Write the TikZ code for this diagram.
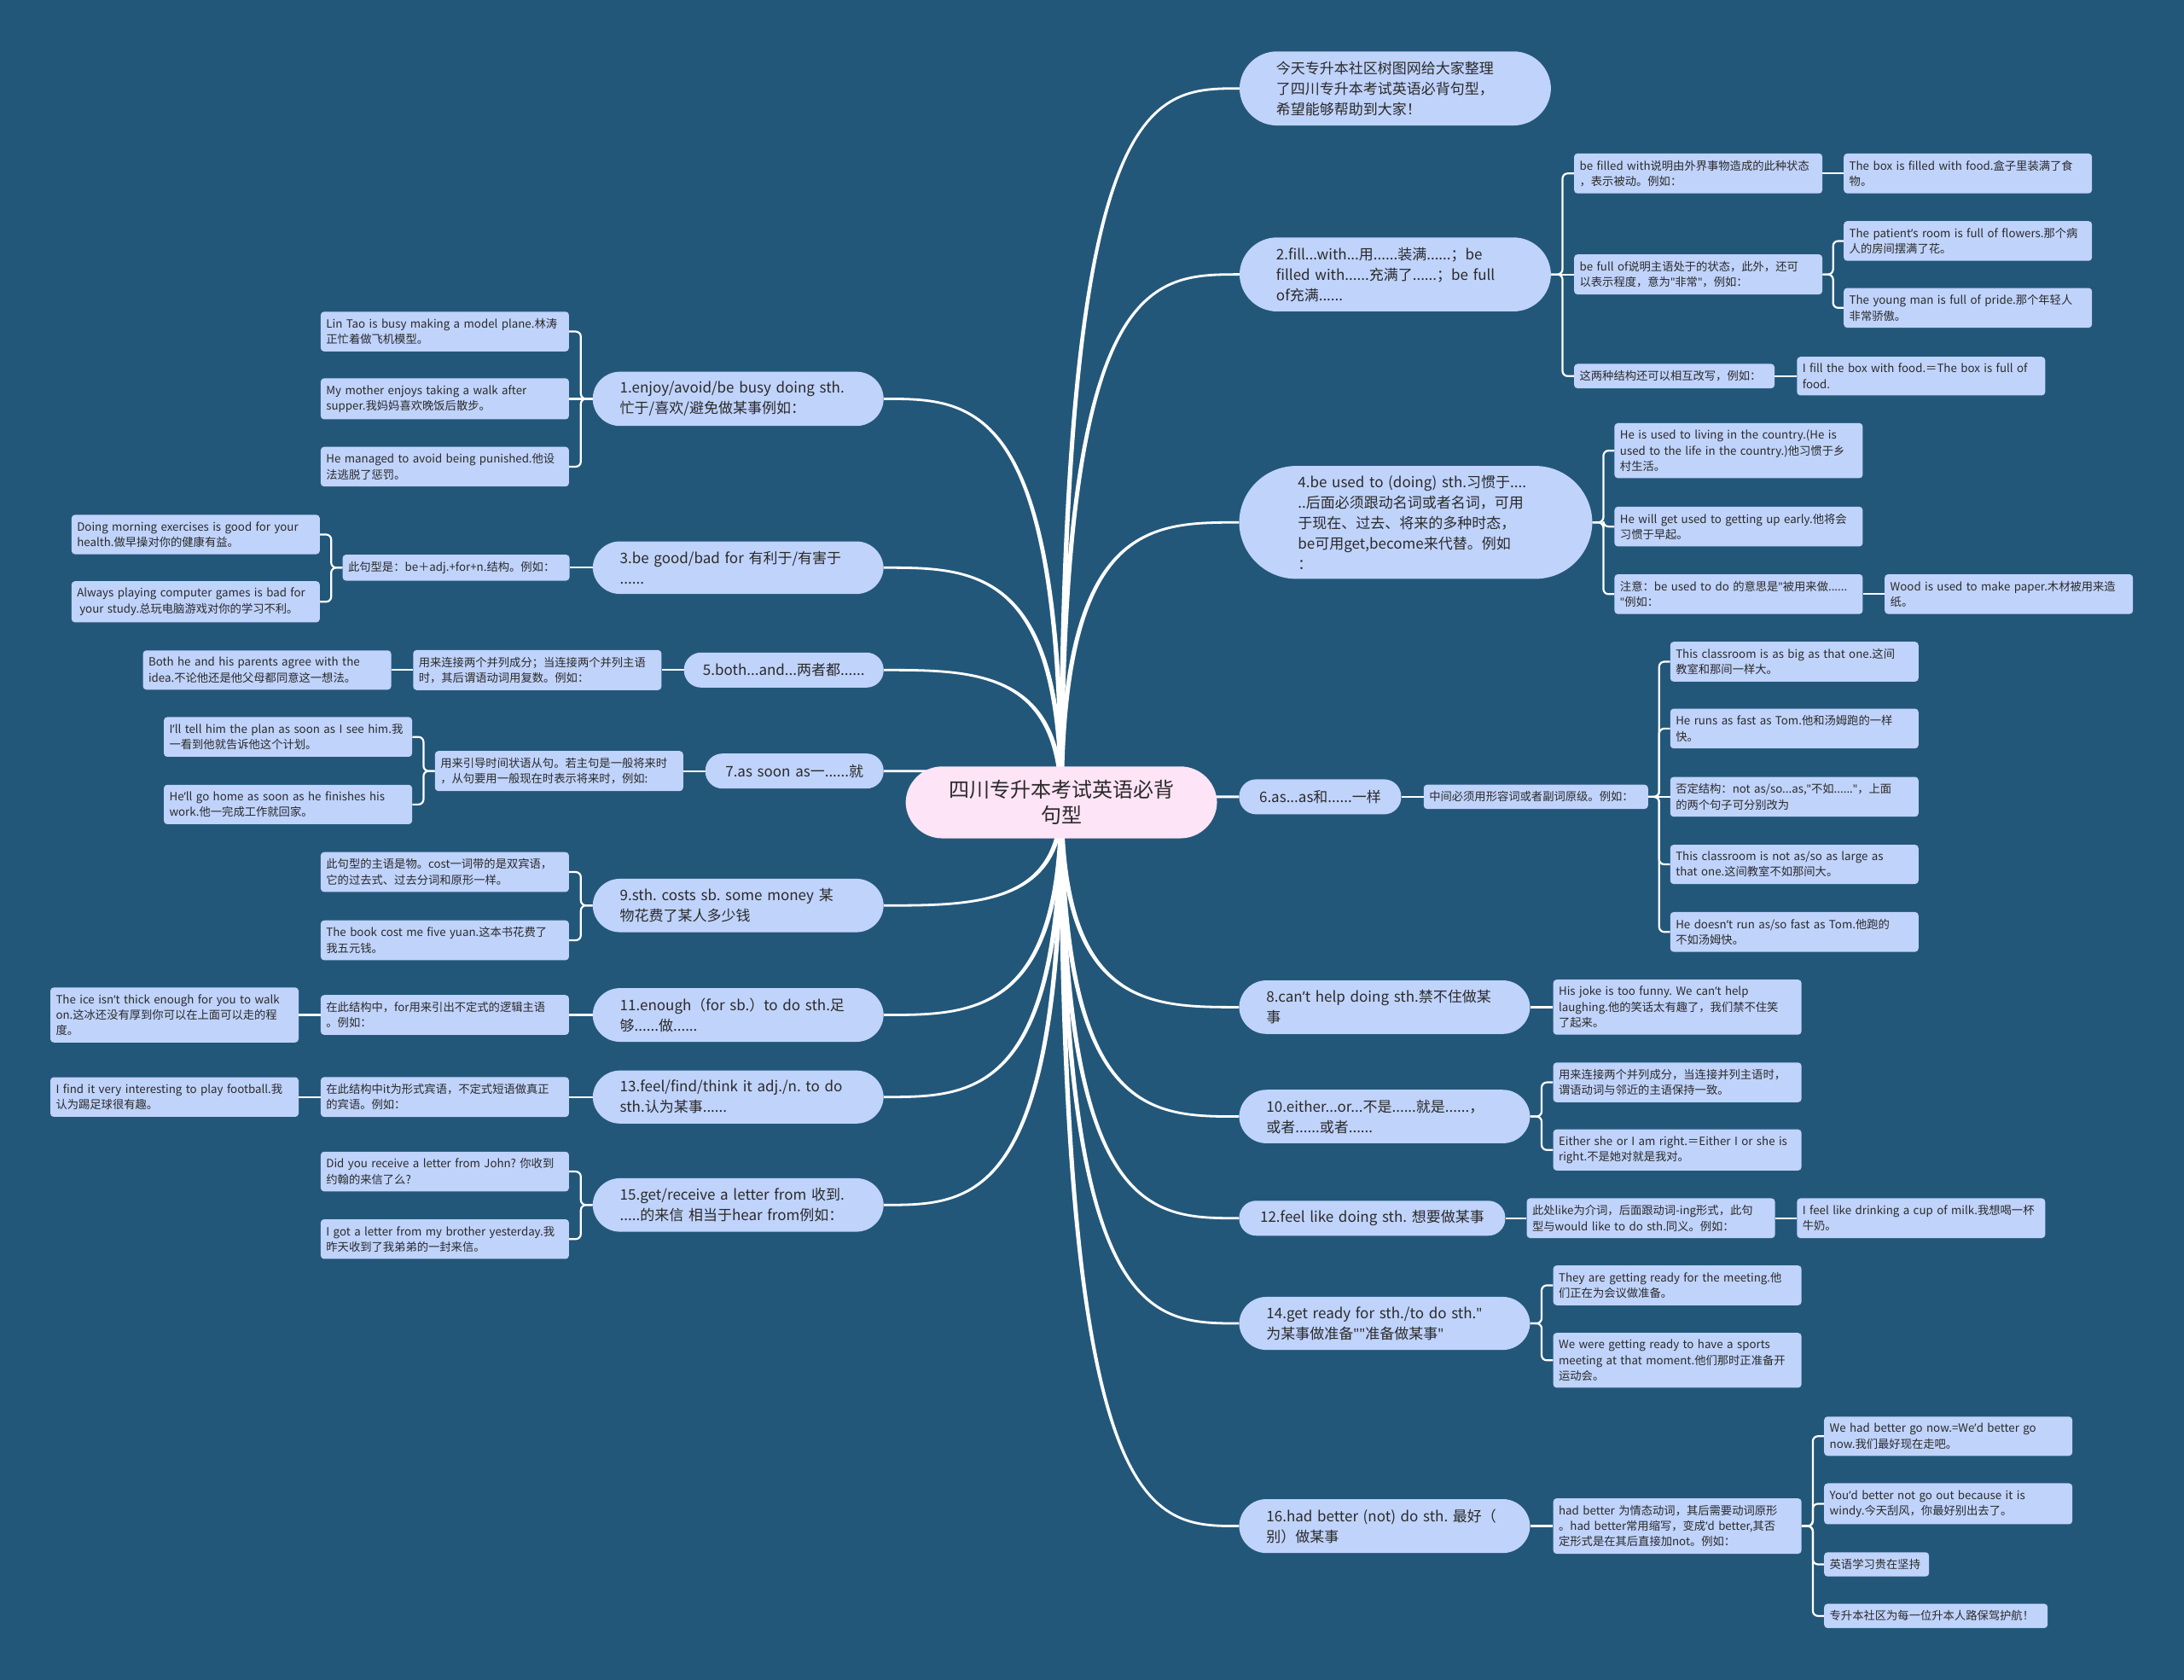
\documentclass[tikz,border=0pt]{standalone}
\usepackage{fontspec}
\setmainfont{Noto Sans CJK SC}
\newfontfamily\latf{Noto Sans}
\newcommand\ap{{\latf ’}}
\newcommand\qq{{\latf "}}
\usetikzlibrary{calc}
\definecolor{bg}{HTML}{23577A}
\definecolor{nf}{HTML}{C0D3FB}
\definecolor{rootf}{HTML}{FDE4F6}
\definecolor{tx}{HTML}{2A2A2A}
\newcommand\fsmall{\fontsize{13.3}{18.3}\selectfont}
\newcommand\fbr{\fontsize{17}{24}\selectfont}
\newcommand\froot{\fontsize{24}{30}\selectfont}
\pgfdeclarelayer{back}\pgfdeclarelayer{lines}\pgfsetlayers{back,lines,main}
\newcommand\mainconn[1]{%
 \fill[white] let \p1=(root.center), \p2=(#1), \n1={sign(\x2-\x1)*sign(\y2-\y1)} in
 ({\x1-2.8pt},\y1) .. controls ({\x1-2.8pt},{\y2+(\n1)*1.4pt}) and ({(\x1+\x2)/2},{\y2+(\n1)*1.4pt}) .. (\x2,{\y2+(\n1)*1.4pt})
 -- (\x2,{\y2-(\n1)*1.4pt}) .. controls ({(\x1+\x2)/2},{\y2-(\n1)*1.4pt}) and ({\x1+2.8pt},{\y2-(\n1)*1.4pt}) .. ({\x1+2.8pt},\y1) -- cycle;}
\newcommand\subL[2]{\draw[subline] (#1.west) -- ($(#1.west)!.5!(#1.west -| #2.east)$) |- (#2.east);}
\newcommand\subR[2]{\draw[subline] (#1.east) -- ($(#1.east)!.5!(#1.east -| #2.west)$) |- (#2.west);}
\newcommand\subLs[2]{\draw[subline] (#1.west) -- (#2.east);}
\newcommand\subRs[2]{\draw[subline] (#1.east) -- (#2.west);}
\begin{document}
\frenchspacing
\begin{tikzpicture}[x=1.6327pt,y=-1.6327pt,
 leaf/.style={fill=nf,text=tx,rounded corners=4pt,inner xsep=6.5pt,inner ysep=8pt,font=\fsmall,align=left,text width=#1},
 leaf/.default=278pt,
 br/.style={fill=nf,text=tx,rounded corners=32pt,inner xsep=32pt,inner ysep=11.5pt,font=\fbr,align=left,text width=277pt},
 brw/.style={br,rounded corners=44pt,inner xsep=43pt,text width=279pt},
 brone/.style={fill=nf,text=tx,rounded corners=20pt,inner xsep=19pt,inner ysep=4pt,minimum height=41pt,font=\fbr,align=center,text width=#1},
 rootn/.style={fill=rootf,text=tx,rounded corners=43pt,inner xsep=32.5pt,inner ysep=16pt,font=\froot,align=center,text width=300pt},
 subline/.style={draw=white,line width=2.2pt,rounded corners=6pt},
]
\path[use as bounding box] (0,0) rectangle (1568,1206);
\begin{pgfonlayer}{back}
\fill[bg] (0,0) rectangle (1568,1206);
\end{pgfonlayer}

\node[rootn] (root) at (762,576) {四川专升本考试英语必背\\句型};

% left branches
\node[br,anchor=east] (L1) at (634.5,286.3) {1.enjoy/avoid/be busy doing sth.\\忙于/喜欢/避免做某事例如：};
\node[br,anchor=east] (L3) at (634.5,407.5) {3.be good/bad for 有利于/有害于\\......};
\node[brone=196pt,anchor=east] (L5) at (634.5,481) {5.both...and...两者都......};
\node[brone=171pt,anchor=east] (L7) at (634.5,553.5) {7.as soon as一......就};
\node[br,anchor=east] (L9) at (634.5,650) {9.sth. costs sb. some money 某\\物花费了某人多少钱};
\node[br,anchor=east] (L11) at (634.5,728.6) {11.enough（for sb.）to do sth.足\\够......做......};
\node[br,anchor=east] (L13) at (634.5,787.5) {13.feel/find/think it adj./n. to do\\sth.认为某事......};
\node[br,anchor=east] (L15) at (634.5,865) {15.get/receive a letter from 收到.\\.....的来信 相当于hear from例如：};

% left leaves
\node[leaf,anchor=east] (L1a) at (408.6,238) {Lin Tao is busy making a model plane.林涛\\正忙着做飞机模型。};
\node[leaf,anchor=east] (L1b) at (408.6,286.3) {My mother enjoys taking a walk after\\supper.我妈妈喜欢晚饭后散步。};
\node[leaf,anchor=east] (L1c) at (408.6,335) {He managed to avoid being punished.他设\\法逃脱了惩罚。};
\node[leaf=253pt,anchor=east] (L3m) at (409,407.5) {此句型是：be＋adj.+for+n.结构。例如：};
\node[leaf,anchor=east] (L3a) at (229.7,383.7) {Doing morning exercises is good for your\\health.做早操对你的健康有益。};
\node[leaf,anchor=east] (L3b) at (229.7,432) {Always playing computer games is bad for\\\hspace*{3pt}your study.总玩电脑游戏对你的学习不利。};
\node[leaf,anchor=east] (L5m) at (475,481) {用来连接两个并列成分；当连接两个并列主语\\时，其后谓语动词用复数。例如：};
\node[leaf,anchor=east] (L5a) at (281,481) {Both he and his parents agree with the\\idea.不论他还是他父母都同意这一想法。};
\node[leaf,anchor=east] (L7m) at (490.6,553.5) {用来引导时间状语从句。若主句是一般将来时\\，从句要用一般现在时表示将来时，例如:};
\node[leaf,anchor=east] (L7a) at (296,529) {I\ap{}ll tell him the plan as soon as I see him.我\\一看到他就告诉他这个计划。};
\node[leaf,anchor=east] (L7b) at (296,577.5) {He\ap{}ll go home as soon as he finishes his\\work.他一完成工作就回家。};
\node[leaf,anchor=east] (L9a) at (408.6,626) {此句型的主语是物。cost一词带的是双宾语，\\它的过去式、过去分词和原形一样。};
\node[leaf,anchor=east] (L9b) at (408.6,675) {The book cost me five yuan.这本书花费了\\我五元钱。};
\node[leaf,anchor=east] (L11m) at (408.6,728.6) {在此结构中，for用来引出不定式的逻辑主语\\。例如：};
\node[leaf,anchor=east] (L11a) at (214.5,728.6) {The ice isn\ap{}t thick enough for you to walk\\on.这冰还没有厚到你可以在上面可以走的程\\度。};
\node[leaf,anchor=east] (L13m) at (408.6,787.5) {在此结构中it为形式宾语，不定式短语做真正\\的宾语。例如：};
\node[leaf,anchor=east] (L13a) at (214.5,787.5) {I find it very interesting to play football.我\\认为踢足球很有趣。};
\node[leaf,anchor=east] (L15a) at (408.6,841) {Did you receive a letter from John? 你收到\\约翰的来信了么?};
\node[leaf,anchor=east] (L15b) at (408.6,889.5) {I got a letter from my brother yesterday.我\\昨天收到了我弟弟的一封来信。};

% right branches
\node[brw,anchor=west] (R0) at (889.8,63.5) {今天专升本社区树图网给大家整理\\了四川专升本考试英语必背句型，\\希望能够帮助到大家！};
\node[brw,anchor=west] (R2) at (889.8,197) {2.fill...with...用......装满......；be\\filled with......充满了......；be full\\of充满......};
\node[br,anchor=west,rounded corners=67pt,inner xsep=69pt,inner ysep=11pt,text width=276pt] (R4) at (889.5,375) {4.be used to (doing) sth.习惯于....\\..后面必须跟动名词或者名词，可用\\于现在、过去、将来的多种时态，\\be可用get,become来代替。例如\\：};
\node[brone=152pt,anchor=west] (R6) at (889.5,572) {6.as...as和......一样};
\node[br,anchor=west] (R8) at (889.5,723) {8.can\ap{}t help doing sth.禁不住做某\\事};
\node[br,anchor=west] (R10) at (889.5,801.5) {10.either...or...不是......就是......，\\或者......或者......};
\node[brone=274pt,anchor=west] (R12) at (889.5,874.5) {12.feel like doing sth. 想要做某事};
\node[br,anchor=west] (R14) at (889.5,950) {14.get ready for sth./to do sth.\qq\\为某事做准备\qq\qq 准备做某事\qq};
\node[br,anchor=west] (R16) at (889.5,1095.5) {16.had better (not) do sth. 最好（\\别）做某事};

% right leaves
\node[leaf,anchor=west] (R2a) at (1130,124.5) {be filled with说明由外界事物造成的此种状态\\，表示被动。例如：};
\node[leaf,anchor=west] (R2a1) at (1323.6,124.5) {The box is filled with food.盒子里装满了食\\物。};
\node[leaf,anchor=west] (R2b) at (1130,197) {be full of说明主语处于的状态，此外，还可\\以表示程度，意为\qq 非常\qq，例如：};
\node[leaf,anchor=west] (R2b1) at (1323.6,173) {The patient\ap{}s room is full of flowers.那个病\\人的房间摆满了花。};
\node[leaf,anchor=west] (R2b2) at (1323.6,221) {The young man is full of pride.那个年轻人\\非常骄傲。};
\node[leaf=222pt,anchor=west] (R2c) at (1130,270) {这两种结构还可以相互改写，例如：};
\node[leaf,anchor=west] (R2c1) at (1290,270) {I fill the box with food.＝The box is full of\\food.};

\node[leaf,anchor=west] (R4a) at (1159,323.5) {He is used to living in the country.(He is\\used to the life in the country.)他习惯于乡\\村生活。};
\node[leaf,anchor=west] (R4b) at (1159,378) {He will get used to getting up early.他将会\\习惯于早起。};
\node[leaf,anchor=west] (R4c) at (1159,426.5) {注意：be used to do 的意思是\qq 被用来做......\\\qq 例如：};
\node[leaf,anchor=west] (R4c1) at (1353,426.5) {Wood is used to make paper.木材被用来造\\纸。};

\node[leaf=250pt,anchor=west] (R6m) at (1022,572) {中间必须用形容词或者副词原级。例如：};
\node[leaf,anchor=west] (R6a) at (1199,475) {This classroom is as big as that one.这间\\教室和那间一样大。};
\node[leaf,anchor=west] (R6b) at (1199,523) {He runs as fast as Tom.他和汤姆跑的一样\\快。};
\node[leaf,anchor=west] (R6c) at (1199,572) {否定结构：not as/so...as,\qq 不如......\qq，上面\\的两个句子可分别改为};
\node[leaf,anchor=west] (R6d) at (1199,620.5) {This classroom is not as/so as large as\\that one.这间教室不如那间大。};
\node[leaf,anchor=west] (R6e) at (1199,669) {He doesn\ap{}t run as/so fast as Tom.他跑的\\不如汤姆快。};

\node[leaf,anchor=west] (R8a) at (1115,723) {His joke is too funny. We can\ap{}t help\\laughing.他的笑话太有趣了，我们禁不住笑\\了起来。};

\node[leaf,anchor=west] (R10a) at (1115,777) {用来连接两个并列成分，当连接并列主语时，\\谓语动词与邻近的主语保持一致。};
\node[leaf,anchor=west] (R10b) at (1115,825.5) {Either she or I am right.＝Either I or she is\\right.不是她对就是我对。};

\node[leaf,anchor=west] (R12m) at (1096,874.5) {此处like为介词，后面跟动词-ing形式，此句\\型与would like to do sth.同义。例如：};
\node[leaf,anchor=west] (R12a) at (1290,874.5) {I feel like drinking a cup of milk.我想喝一杯\\牛奶。};

\node[leaf,anchor=west] (R14a) at (1115,922.7) {They are getting ready for the meeting.他\\们正在为会议做准备。};
\node[leaf,anchor=west] (R14b) at (1115,976.5) {We were getting ready to have a sports\\meeting at that moment.他们那时正准备开\\运动会。};

\node[leaf,anchor=west] (R16m) at (1115,1095.5) {had better 为情态动词，其后需要动词原形\\。had better常用缩写，变成\ap{}d better,其否\\定形式是在其后直接加not。例如：};
\node[leaf,anchor=west] (R16a) at (1309.5,1031) {We had better go now.=We\ap{}d better go\\now.我们最好现在走吧。};
\node[leaf,anchor=west] (R16b) at (1309.5,1079.5) {You\ap{}d better not go out because it is\\windy.今天刮风，你最好别出去了。};
\node[leaf=110pt,anchor=west] (R16c) at (1309.5,1123) {英语学习贵在坚持};
\node[leaf=249pt,anchor=west] (R16d) at (1309.5,1160) {专升本社区为每一位升本人路保驾护航！};

\begin{pgfonlayer}{lines}
\mainconn{L1.east}\mainconn{L3.east}\mainconn{L5.east}\mainconn{L7.east}
\mainconn{L9.east}\mainconn{L11.east}\mainconn{L13.east}\mainconn{L15.east}
\mainconn{R0.west}\mainconn{R2.west}\mainconn{R4.west}\mainconn{R6.west}
\mainconn{R8.west}\mainconn{R10.west}\mainconn{R12.west}\mainconn{R14.west}\mainconn{R16.west}
\subL{L1}{L1a}\subLs{L1}{L1b}\subL{L1}{L1c}
\subLs{L3}{L3m}\subL{L3m}{L3a}\subL{L3m}{L3b}
\subLs{L5}{L5m}\subLs{L5m}{L5a}
\subLs{L7}{L7m}\subL{L7m}{L7a}\subL{L7m}{L7b}
\subL{L9}{L9a}\subL{L9}{L9b}
\subLs{L11}{L11m}\subLs{L11m}{L11a}
\subLs{L13}{L13m}\subLs{L13m}{L13a}
\subL{L15}{L15a}\subL{L15}{L15b}
\subR{R2}{R2a}\subRs{R2}{R2b}\subR{R2}{R2c}
\subRs{R2a}{R2a1}\subR{R2b}{R2b1}\subR{R2b}{R2b2}\subRs{R2c}{R2c1}
\subR{R4}{R4a}\subR{R4}{R4b}\subR{R4}{R4c}\subRs{R4c}{R4c1}
\subRs{R6}{R6m}\subR{R6m}{R6a}\subR{R6m}{R6b}\subRs{R6m}{R6c}\subR{R6m}{R6d}\subR{R6m}{R6e}
\subRs{R8}{R8a}
\subR{R10}{R10a}\subR{R10}{R10b}
\subRs{R12}{R12m}\subRs{R12m}{R12a}
\subR{R14}{R14a}\subR{R14}{R14b}
\subRs{R16}{R16m}\subR{R16m}{R16a}\subR{R16m}{R16b}\subR{R16m}{R16c}\subR{R16m}{R16d}
\end{pgfonlayer}
\end{tikzpicture}
\end{document}
